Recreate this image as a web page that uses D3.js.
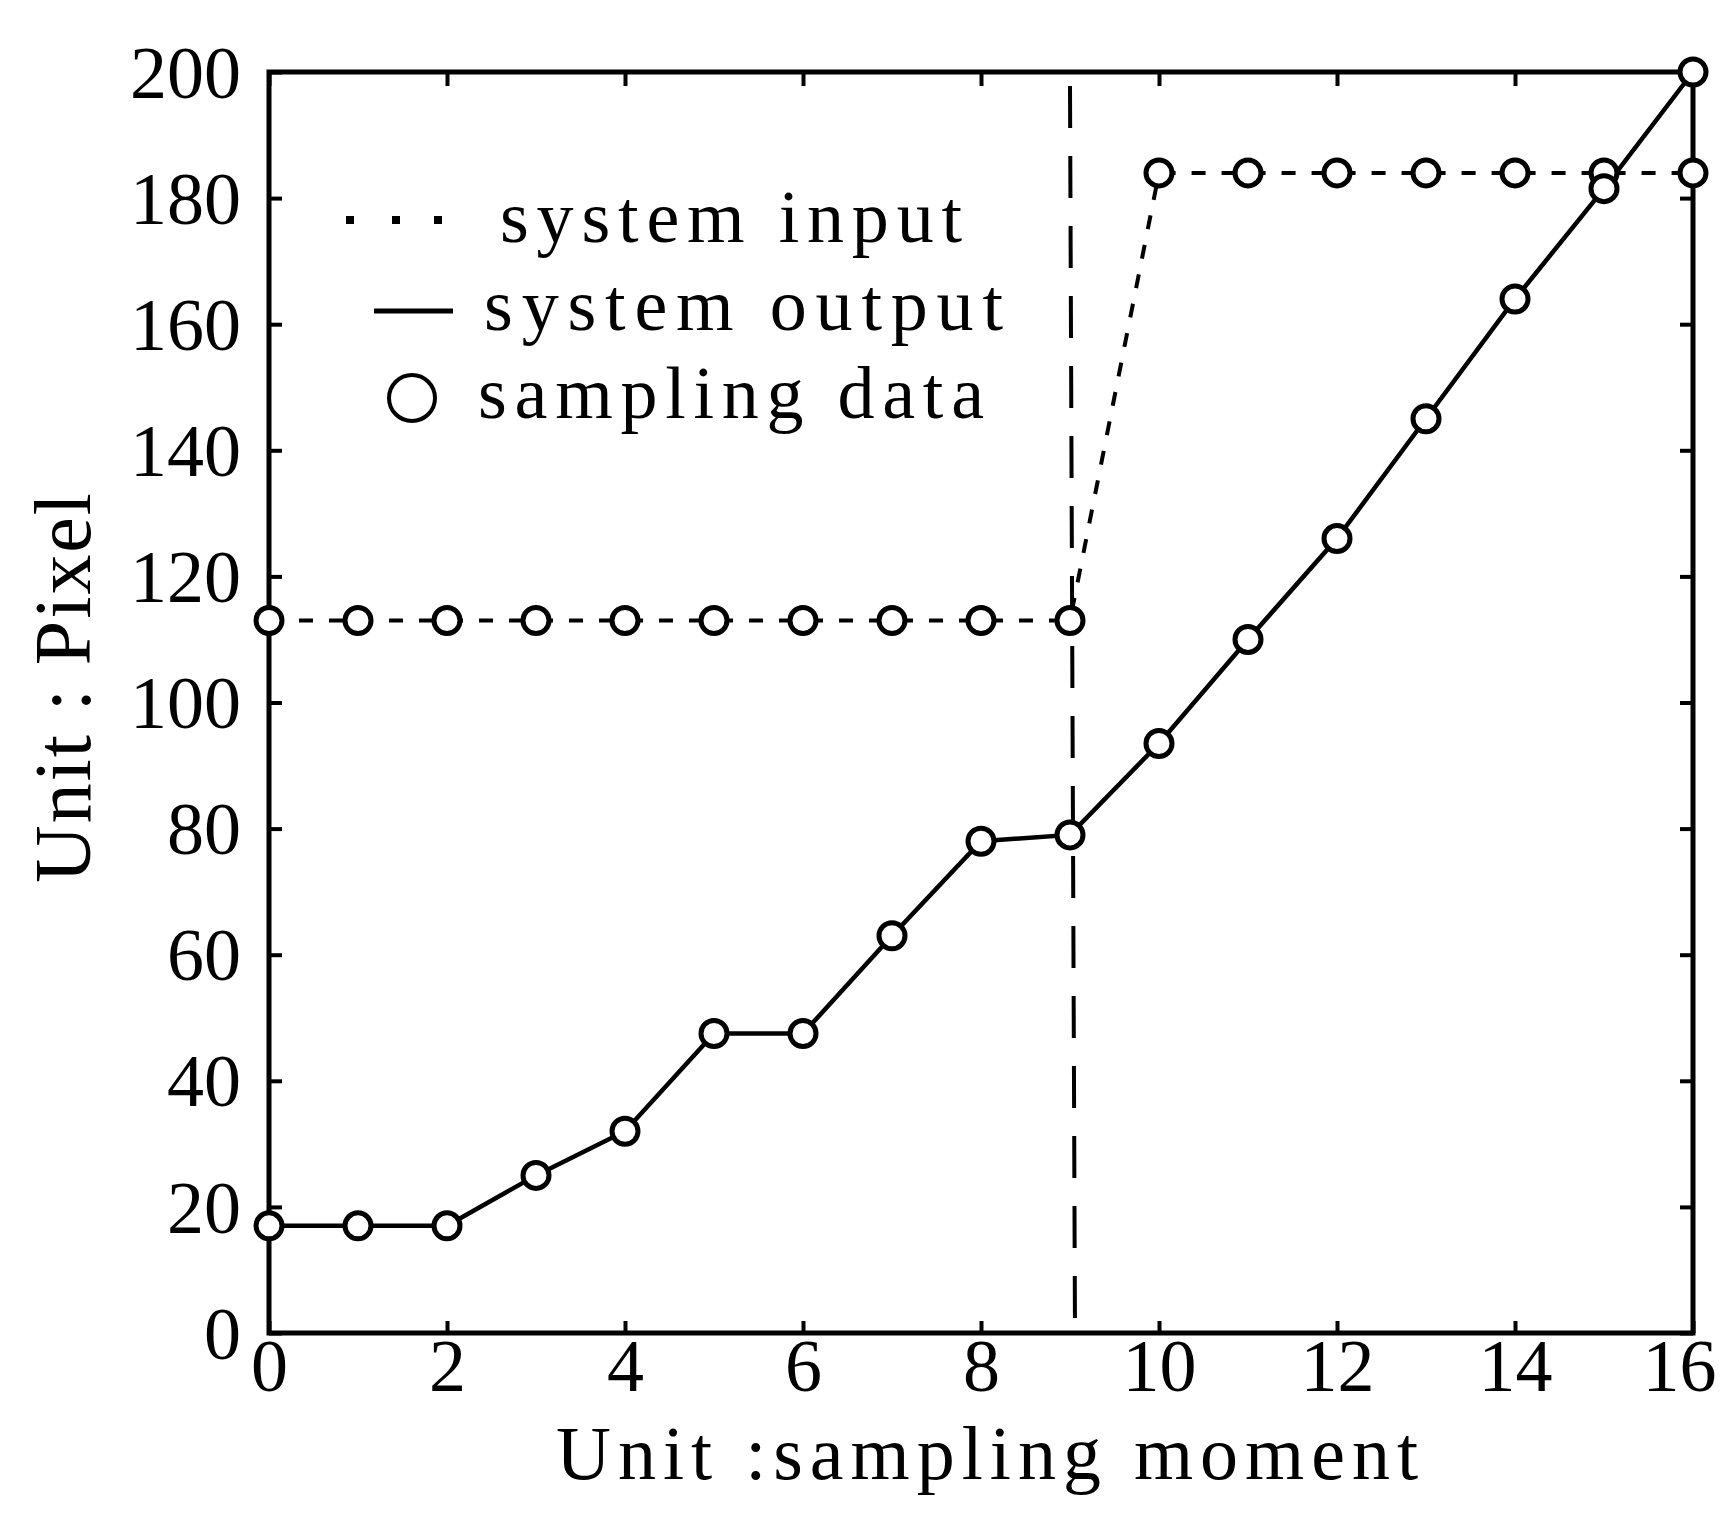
<!DOCTYPE html>
<html>
<head>
<meta charset="utf-8">
<script src="https://cdn.jsdelivr.net/npm/d3@7"></script>
<style>
  body { margin: 0; background: #fff; }
  svg { display: block; }
  text { font-family: "Liberation Serif", "DejaVu Serif", serif; fill: #000; }
</style>
</head>
<body>
<svg id="chart" width="1724" height="1516"></svg>
<script>
// sampling moments
const moments = [0, 1, 2, 3, 4, 5, 6, 7, 8, 9, 10, 11, 12, 13, 14, 15, 16];
// system input (pixel)
const inputValues = [113, 113, 113, 113, 113, 113, 113, 113, 113, 113, 184, 184, 184, 184, 184, 184, 184];
// system output (pixel)
const outputValues = [17, 17, 17, 25, 32, 47.5, 47.5, 63, 78, 79, 93.5, 110, 126, 145, 164, 181.5, 200];
const xTicks = [0, 2, 4, 6, 8, 10, 12, 14, 16];
const yTicks = [0, 20, 40, 60, 80, 100, 120, 140, 160, 180, 200];
const switchMoment = 9;
const legendLabels = ["system input", "system output", "sampling data"];

const svg = d3.select("#chart");
svg.append("rect").attr("width", 1724).attr("height", 1516).attr("fill", "#fff");

const x = d3.scaleLinear().domain([0, 16]).range([269, 1693]);
const y = d3.scaleLinear().domain([0, 200]).range([1333, 72]);

const fontSize = 74;

// bottom axis
const gx = svg.append("g")
    .attr("transform", `translate(0,${y(0)})`)
    .call(d3.axisBottom(x).tickValues(xTicks).tickSizeInner(-12).tickSizeOuter(0).tickPadding(34));
// top axis (ticks only)
const gxt = svg.append("g")
    .attr("transform", `translate(0,${y(200)})`)
    .call(d3.axisTop(x).tickValues(xTicks).tickSizeInner(-14).tickSizeOuter(0).tickFormat(""));
// left axis
const gy = svg.append("g")
    .attr("transform", `translate(${x(0)},0)`)
    .call(d3.axisLeft(y).tickValues(yTicks).tickSizeInner(-13).tickSizeOuter(0).tickPadding(28));
// right axis (ticks only)
const gyr = svg.append("g")
    .attr("transform", `translate(${x(16)},0)`)
    .call(d3.axisRight(y).tickValues(yTicks).tickSizeInner(-13).tickSizeOuter(0).tickFormat(""));

[gx, gxt, gy, gyr].forEach(g => {
    g.select(".domain").remove();
    g.selectAll(".tick line").attr("stroke", "#000").attr("stroke-width", 4);
    g.selectAll("text")
        .style("font-family", '"Liberation Serif", serif')
        .style("font-size", fontSize + "px")
        .attr("fill", "#000");
});
gx.selectAll("text").attr("dy", "0.32em");
// last label sits against the page edge, as in the figure
gx.selectAll(".tick").filter(d => d === 16).select("text").attr("dx", -14);
gy.selectAll("text").attr("dy", "0.34em");

// frame
svg.append("rect")
    .attr("x", x(0)).attr("y", y(200))
    .attr("width", x(16) - x(0)).attr("height", y(0) - y(200))
    .attr("fill", "none").attr("stroke", "#000").attr("stroke-width", 5);

// vertical dashed line at switch moment
svg.append("line")
    .attr("x1", x(switchMoment)).attr("x2", x(switchMoment) + 5)
    .attr("y1", y(200) + 14).attr("y2", y(0))
    .attr("stroke", "#000").attr("stroke-width", 4)
    .attr("stroke-dasharray", "42,28");

const inputData = moments.map((m, i) => ({m, v: inputValues[i]}));
const outputData = moments.map((m, i) => ({m, v: outputValues[i]}));
const line = d3.line().x(d => x(d.m)).y(d => y(d.v));

svg.append("path")
    .datum(inputData)
    .attr("d", line)
    .attr("fill", "none").attr("stroke", "#000").attr("stroke-width", 4)
    .attr("stroke-dasharray", "14,16");

svg.append("path")
    .datum(outputData)
    .attr("d", line)
    .attr("fill", "none").attr("stroke", "#000").attr("stroke-width", 4.5);

// sampling markers
[inputData, outputData].forEach(data => {
    svg.append("g").selectAll("circle")
        .data(data)
        .join("circle")
        .attr("cx", d => x(d.m)).attr("cy", d => y(d.v))
        .attr("r", 13)
        .attr("fill", "#fff").attr("stroke", "#000").attr("stroke-width", 5);
});

// axis titles
svg.append("text")
    .attr("x", 987).attr("y", 1479)
    .attr("text-anchor", "middle")
    .style("font-size", "76px")
    .attr("textLength", 862).attr("lengthAdjust", "spacing")
    .text("Unit :sampling moment");

svg.append("text")
    .attr("transform", "translate(90,688) rotate(-90)")
    .attr("text-anchor", "middle")
    .style("font-size", "80px")
    .attr("textLength", 390).attr("lengthAdjust", "spacing")
    .text("Unit : Pixel");

// legend
const legend = svg.append("g");
const legendRows = [
    {label: legendLabels[0], tx: 500, ty: 242, w: 462},
    {label: legendLabels[1], tx: 484, ty: 330, w: 519},
    {label: legendLabels[2], tx: 478, ty: 418, w: 506}
];
legend.selectAll("text")
    .data(legendRows)
    .join("text")
    .attr("x", d => d.tx).attr("y", d => d.ty)
    .style("font-size", "74px")
    .attr("textLength", d => d.w).attr("lengthAdjust", "spacing")
    .text(d => d.label);

// dotted symbol
legend.selectAll("rect.dot")
    .data([350, 396, 438])
    .join("rect")
    .attr("class", "dot")
    .attr("x", d => d - 4).attr("y", 216)
    .attr("width", 8).attr("height", 8)
    .attr("fill", "#000");
// solid symbol
legend.append("line")
    .attr("x1", 374).attr("x2", 453)
    .attr("y1", 311).attr("y2", 311)
    .attr("stroke", "#000").attr("stroke-width", 5);
// circle symbol
legend.append("circle")
    .attr("cx", 412).attr("cy", 398).attr("r", 23)
    .attr("fill", "none").attr("stroke", "#000").attr("stroke-width", 4);
</script>
</body>
</html>
